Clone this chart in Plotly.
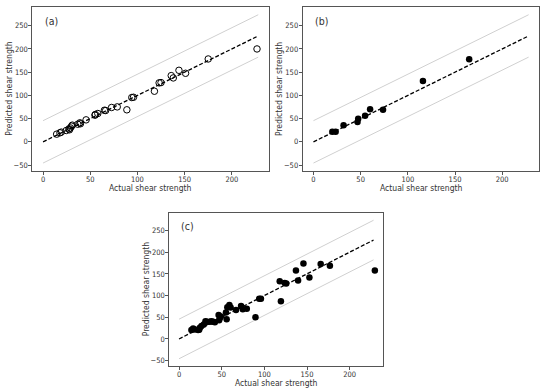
import plotly.graph_objects as go

# ---- data ----
a_actual = [14.4, 17.9, 19.3, 24.6, 27.4, 28.0, 29.0, 30.2, 31.0, 36.8, 39.0, 39.6, 45.6,
            55.0, 55.4, 58.0, 65.0, 66.3, 72.6, 78.6, 88.8, 94.0, 95.8, 118.0, 123.0,
            125.0, 135.8, 138.0, 144.0, 151.0, 175.0, 226.7]
a_pred = [16.6, 19.5, 21.0, 24.5, 28.0, 26.0, 30.0, 33.8, 36.0, 38.0, 41.0, 39.0, 47.4,
          57.4, 59.0, 61.0, 68.0, 67.5, 74.0, 75.3, 69.0, 95.4, 96.0, 109.0, 127.0,
          127.6, 142.6, 137.6, 154.0, 147.6, 178.4, 200.0]

b_actual = [20.0, 23.5, 31.9, 46.7, 47.4, 54.7, 60.0, 73.7, 116.0, 165.0]
b_pred = [21.7, 21.7, 36.0, 43.0, 49.6, 56.0, 70.3, 69.0, 131.0, 177.7]

c_actual = [14.5, 16.5, 18.5, 22.4, 24.4, 23.6, 26.3, 29.0, 31.0, 32.6, 36.0, 38.0, 40.0,
            42.0, 46.4, 48.0, 47.0, 49.0, 55.0, 55.8, 56.6, 59.0, 60.5, 66.8, 72.7, 74.7,
            79.4, 89.6, 94.0, 96.0, 118.0, 119.4, 123.8, 125.7, 137.0, 139.5, 145.8,
            152.8, 166.0, 176.8, 229.5]
c_pred = [20.5, 24.3, 22.0, 20.5, 25.8, 21.0, 29.6, 33.5, 41.0, 39.6, 39.6, 41.0, 39.6,
          38.8, 55.0, 48.8, 43.4, 52.0, 61.0, 45.7, 73.0, 78.0, 72.5, 67.0, 76.0, 68.6,
          69.4, 50.3, 92.4, 92.4, 133.0, 87.0, 129.0, 127.6, 158.0, 135.0, 174.0,
          141.4, 172.7, 169.0, 158.0]

ref_x = [0, 228]
band_offset = 45.6
panel_labels = ["(a)", "(b)", "(c)"]
x_title = "Actual shear strength"
y_title = "Predicted shear strength"
x_ticks = [0, 50, 100, 150, 200]
y_ticks = [-50, 0, 50, 100, 150, 200, 250]
x_range = [-11.4, 239.4]
y_range = [-61.6, 289.6]

W, H = 550, 390
# panel frames in pixels: (left, right, top, bottom)
frames = [(32.3, 269.0, 7.3, 170.5), (302.7, 539.4, 7.3, 170.5), (169.3, 383.3, 213.3, 365.7)]

fig = go.Figure()
datasets = [
    (a_actual, a_pred, dict(symbol="circle-open", size=6.5, color="black", line=dict(color="black", width=1))),
    (b_actual, b_pred, dict(symbol="circle", size=6.5, color="black")),
    (c_actual, c_pred, dict(symbol="circle", size=6.5, color="black")),
]
font = "DejaVu Sans Condensed, Liberation Sans Narrow, DejaVu Sans, sans-serif"
txt = "#333333"
for i, ((xs, ys, mk), (l, r, t, b)) in enumerate(zip(datasets, frames)):
    n = "" if i == 0 else str(i + 1)
    xa, ya = "x" + n, "y" + n
    upper = [v + band_offset for v in ref_x]
    lower = [v - band_offset for v in ref_x]
    fig.add_trace(go.Scatter(x=ref_x, y=upper, mode="lines", line=dict(color="#d0d0d0", width=1),
                             xaxis=xa, yaxis=ya, showlegend=False, hoverinfo="skip"))
    fig.add_trace(go.Scatter(x=ref_x, y=lower, mode="lines", line=dict(color="#d0d0d0", width=1),
                             xaxis=xa, yaxis=ya, showlegend=False, hoverinfo="skip"))
    fig.add_trace(go.Scatter(x=ref_x, y=ref_x, mode="lines", line=dict(color="black", width=1.3, dash="4px,2px"),
                             xaxis=xa, yaxis=ya, showlegend=False, hoverinfo="skip"))
    fig.add_trace(go.Scatter(x=xs, y=ys, mode="markers", marker=mk,
                             xaxis=xa, yaxis=ya, showlegend=False))
    common = dict(showgrid=False, zeroline=False, showline=True, mirror=True, linecolor="#555555",
                  linewidth=1, ticks="outside", ticklen=3, tickcolor="#555555", automargin=False,
                  tickfont=dict(size=7.5, color=txt, family=font))
    fig.layout["xaxis" + n] = dict(domain=[l / W, r / W], anchor=ya, range=x_range,
                                   tickvals=x_ticks, ticklabelstandoff=-2, **common)
    fig.layout["yaxis" + n] = dict(domain=[1 - b / H, 1 - t / H], anchor=xa, range=y_range,
                                   tickvals=y_ticks, ticklabelstandoff=-1, **common)
    # axis titles (placed as annotations for exact position)
    fig.add_annotation(text=x_title, xref="paper", yref="paper",
                       x=(l + r) / 2 / W, y=1 - (b + 17.5) / H, xanchor="center", yanchor="middle",
                       showarrow=False, font=dict(size=8.5, color=txt, family=font))
    fig.add_annotation(text=y_title, xref="paper", yref="paper", textangle=-90,
                       x=(l - 23.5) / W, y=1 - (t + b) / 2 / H, xanchor="center", yanchor="middle",
                       showarrow=False, font=dict(size=8.5, color=txt, family=font))
    fig.add_annotation(text=panel_labels[i], xref=xa + " domain", yref=ya + " domain",
                       x=0.045, y=0.915, xanchor="left", yanchor="middle", showarrow=False,
                       font=dict(size=10.5, color=txt, family=font))

fig.update_layout(width=W, height=H, margin=dict(l=0, r=0, t=0, b=0),
                  plot_bgcolor="white", paper_bgcolor="white")
fig.write_html("out.html", config={"displayModeBar": False},
               post_script="document.body.style.margin='0';document.body.style.padding='0';")
